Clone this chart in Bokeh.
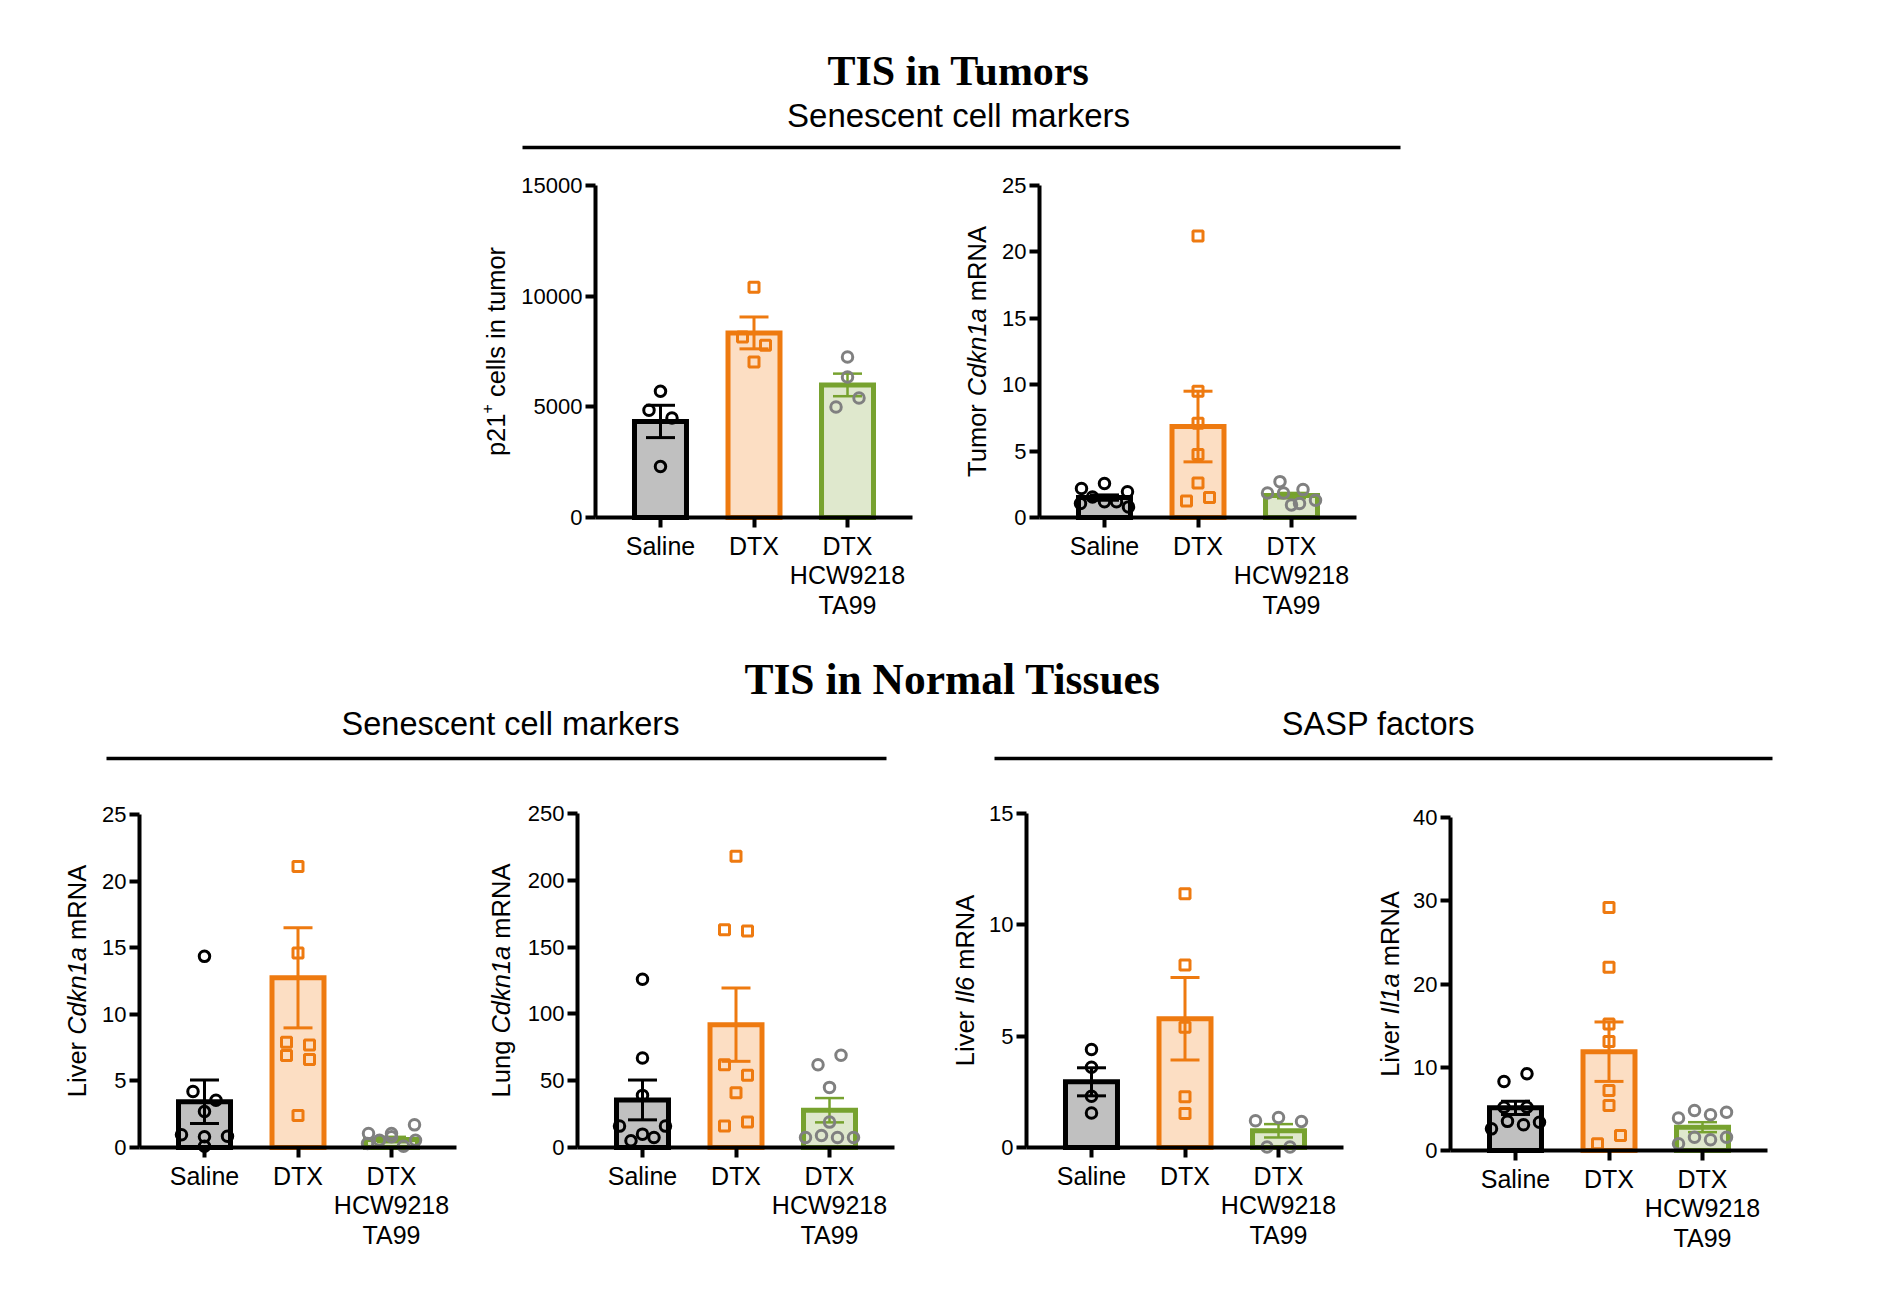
import math
from bokeh.plotting import figure
from bokeh.models import Range1d, FixedTicker, Label, Spacer, LinearAxis
from bokeh.layouts import column, row
from bokeh.embed import file_html
from bokeh.resources import INLINE

# ---------------- data ----------------
categories = ["Saline", "DTX", "DTX\nHCW9218\nTA99"]

# p21+ cells in tumor
p21_saline = [5700, 4850, 4500, 2300]
p21_dtx = [10400, 8150, 7780, 7030]
p21_combo = [7250, 6350, 4990, 5400]
p21_mean = [4340, 8340, 5990]
p21_sem = [730, 720, 510]
p21_ticks = [0, 5000, 10000, 15000]

# Tumor Cdkn1a mRNA
tcdk_saline = [1.05, 1.55, 2.18, 1.18, 2.56, 1.18, 1.93, 0.80]
tcdk_dtx = [21.2, 9.5, 7.1, 4.75, 2.6, 1.25, 1.5]
tcdk_combo = [1.85, 2.7, 1.85, 2.1, 0.95, 1.05, 1.3]
tcdk_mean = [1.5, 6.85, 1.65]
tcdk_sem = [0.2, 2.66, 0.2]
tcdk_ticks = [0, 5, 10, 15, 20, 25]

# Liver Cdkn1a mRNA
lcdk_saline = [14.35, 4.2, 3.55, 2.7, 0.1, 0.95, 0.8, 0.85]
lcdk_dtx = [21.1, 14.6, 7.9, 7.7, 6.9, 6.6, 2.4]
lcdk_combo = [0.3, 1.05, 0.55, 0.8, 1.05, 1.7, 0.1, 0.55]
lcdk_mean = [3.43, 12.74, 0.6]
lcdk_sem = [1.63, 3.76, 0.2]
lcdk_ticks = [0, 5, 10, 15, 20, 25]

# Lung Cdkn1a mRNA
lung_saline = [126, 67, 39, 16, 10, 16, 5, 7.5]
lung_dtx = [218, 163, 162, 62, 54, 41, 16, 19]
lung_combo = [62, 69, 45, 19, 7.5, 9, 7.5, 7.5]
lung_mean = [35.6, 91.9, 27.9]
lung_sem = [14.9, 27.4, 9.1]
lung_ticks = [0, 50, 100, 150, 200, 250]

# Liver Il6 mRNA
il6_saline = [4.4, 3.6, 2.3, 1.55]
il6_dtx = [11.4, 8.2, 5.4, 2.28, 1.53]
il6_combo = [1.2, 1.35, 1.17, 0.02, 0.02]
il6_mean = [2.95, 5.78, 0.75]
il6_sem = [0.63, 1.85, 0.3]
il6_ticks = [0, 5, 10, 15]

# Liver Il1a mRNA
il1a_saline = [8.3, 9.22, 5.2, 5.2, 2.6, 3.5, 3.1, 3.4]
il1a_dtx = [29.2, 22, 15.2, 13.1, 7.2, 5.4, 0.8, 1.8]
il1a_combo = [3.9, 4.8, 4.3, 4.6, 0.8, 1.6, 1.3, 1.6]
il1a_mean = [5.13, 11.87, 2.8]
il1a_sem = [0.8, 3.57, 0.6]
il1a_ticks = [0, 10, 20, 30, 40]

# ---------------- style ----------------
BAR_FILL = ["#c0c0c0", "#fcdec3", "#dfe8cd"]
BAR_LINE = ["#000000", "#ee7a10", "#77a22f"]
PT_COLOR = ["#000000", "#ee7a10", "#808080"]
PT_MARKER = ["circle", "square", "circle"]
PT_SIZE = [10.5, 10, 10.5]
ERR_WIDTH = [3, 3, 2.5]
FONT = "Liberation Sans"
SERIF = "Liberation Serif"

XPOS = list(range(len(categories)))
FRAME_W = 317
AX_LEFT = -0.695
AX_RIGHT = len(categories) - 1 + 0.695
PPX = FRAME_W / (AX_RIGHT - AX_LEFT)
BAR_W = 0.556
CAP_HALF = 0.155

AW = {" ": 278, "+": 584, "1": 556, "2": 556, "6": 556, "A": 667, "C": 722,
      "I": 278, "L": 556, "N": 722, "R": 722, "T": 611, "a": 556, "c": 500,
      "d": 556, "e": 556, "g": 556, "i": 222, "k": 500, "l": 222, "m": 833,
      "n": 556, "o": 556, "p": 556, "r": 333, "s": 500, "t": 278, "u": 556,
      "v": 500}


def text_w(s, size):
    return sum(AW.get(c, 556) for c in s) * size / 1000.0


def swarm(vals, ppu, h=11.0, max_span=48.0, max_step=23.0):
    idx = sorted(range(len(vals)), key=lambda i: -vals[i])
    rows = []
    for i in idx:
        if rows and (vals[rows[-1][0]] - vals[i]) * ppu < h:
            rows[-1].append(i)
        else:
            rows.append([i])
    offs = [0.0] * len(vals)
    for r in rows:
        r = sorted(r)
        n = len(r)
        if n == 1:
            continue
        step = min(max_step, max_span / (n - 1))
        for k, i in enumerate(r):
            offs[i] = (k - (n - 1) / 2.0) * step
    return offs


def add_ylabel(p, pieces, dx_px, H, ymax):
    FS = 25.5
    SUP = 16
    ppu = H / ymax
    widths = []
    for text, style in pieces:
        if style == "space":
            widths.append(AW[" "] * FS / 1000.0)
        elif style == "sup":
            widths.append(text_w(text, SUP))
        else:
            widths.append(text_w(text, FS))
    cum = H / 2.0 - sum(widths) / 2.0
    for (text, style), w in zip(pieces, widths):
        if style != "space":
            size = SUP if style == "sup" else FS
            xoff = dx_px - 9 if style == "sup" else dx_px
            p.add_layout(Label(x=AX_LEFT + xoff / PPX, y=cum / ppu, text=text,
                               angle=math.pi / 2, text_align="left", text_baseline="middle",
                               text_font=FONT,
                               text_font_style="italic" if style == "italic" else "normal",
                               text_font_size=f"{size}px", text_color="#000000"))
        cum += w


def make_panel(groups, means, sems, ticks, pieces, T, H, L, R, label_dx, B=140):
    ymax = ticks[-1]
    ppu = H / ymax
    p = figure(width=L + FRAME_W + R, height=T + H + B,
               x_range=Range1d(AX_LEFT - L / PPX, AX_RIGHT + R / PPX),
               y_range=Range1d(-B / ppu, ymax + T / ppu),
               x_axis_type=None, y_axis_type=None,
               output_backend="svg", toolbar_location=None, min_border=0,
               outline_line_color=None, title=None,
               background_fill_color="white", border_fill_color="white")

    p.vbar(x=XPOS, top=means, bottom=0, width=BAR_W, fill_color=BAR_FILL,
           line_color=BAR_LINE, line_width=5, line_join="miter")

    lo = [m - s for m, s in zip(means, sems)]
    hi = [m + s for m, s in zip(means, sems)]
    p.segment(x0=XPOS, y0=lo, x1=XPOS, y1=hi, line_color=BAR_LINE, line_width=ERR_WIDTH)
    for ys in (lo, hi):
        p.segment(x0=[x - CAP_HALF for x in XPOS], y0=ys,
                  x1=[x + CAP_HALF for x in XPOS], y1=ys,
                  line_color=BAR_LINE, line_width=ERR_WIDTH)

    for g, vals in enumerate(groups):
        offs = swarm(vals, ppu)
        xs = [XPOS[g] + o / PPX for o in offs]
        p.scatter(x=xs, y=vals, marker=PT_MARKER[g], size=PT_SIZE[g], fill_alpha=0,
                  line_color=PT_COLOR[g], line_width=3)

    xa = LinearAxis(fixed_location=0, bounds=(AX_LEFT, AX_RIGHT),
                    ticker=FixedTicker(ticks=XPOS),
                    major_label_overrides={i: c for i, c in zip(XPOS, categories)})
    xa.axis_line_width = 4
    xa.axis_line_color = "#000000"
    xa.major_tick_line_width = 4
    xa.major_tick_line_color = "#000000"
    xa.major_tick_out = 10
    xa.major_tick_in = 0
    xa.minor_tick_out = 0
    xa.minor_tick_in = 0
    xa.major_label_standoff = 4
    xa.major_label_text_font = FONT
    xa.major_label_text_font_size = "25px"
    xa.major_label_text_line_height = 1.06
    xa.major_label_text_color = "#000000"
    p.add_layout(xa, "below")

    ya = LinearAxis(fixed_location=AX_LEFT, bounds=(0, ymax), ticker=FixedTicker(ticks=ticks))
    ya.axis_line_width = 4
    ya.axis_line_color = "#000000"
    ya.major_tick_line_width = 4
    ya.major_tick_line_color = "#000000"
    ya.major_tick_out = 10
    ya.major_tick_in = 0
    ya.minor_tick_out = 0
    ya.minor_tick_in = 0
    ya.major_label_standoff = 3
    ya.major_label_text_font = FONT
    ya.major_label_text_font_size = "22px"
    ya.major_label_text_color = "#000000"
    p.add_layout(ya, "left")

    add_ylabel(p, pieces, label_dx, H, ymax)
    return p


def build_row(specs):
    children = []
    pos = 0
    for frame_left, L, R, fig in specs:
        start = frame_left - L
        if start - pos > 0:
            children.append(Spacer(width=start - pos, height=10))
        children.append(fig)
        pos = frame_left + FRAME_W + R
    return row(children)


def header(height, texts, lines):
    p = figure(width=1874, height=height, x_range=Range1d(0, 1874), y_range=Range1d(0, height),
               x_axis_type=None, y_axis_type=None, toolbar_location=None, output_backend="svg",
               min_border=0, outline_line_color=None, title=None)
    for cx, cy, txt, font, style, size in texts:
        p.add_layout(Label(x=cx, y=height - cy, text=txt, text_align="center",
                           text_baseline="middle", text_font=font, text_font_style=style,
                           text_font_size=size, text_color="#000000"))
    for x0, x1, ly in lines:
        p.line(x=[x0, x1], y=[height - ly, height - ly], line_width=3.5, line_color="#000000")
    return p


# ---------------- page ----------------
head1 = header(152,
               [(950, 62, "TIS in Tumors", SERIF, "bold", "42px"),
                (950, 106.5, "Senescent cell markers", FONT, "normal", "33px")],
               [(514, 1392, 139)])

pA = make_panel([p21_saline, p21_dtx, p21_combo], p21_mean, p21_sem, p21_ticks,
                [("p21", "normal"), ("+", "sup"), (" ", "space"), ("cells in tumor", "normal")],
                T=25, H=332, L=130, R=5, label_dx=-100, B=115)
pB = make_panel([tcdk_saline, tcdk_dtx, tcdk_combo], tcdk_mean, tcdk_sem, tcdk_ticks,
                [("Tumor", "normal"), (" ", "space"), ("Cdkn1a", "italic"), (" ", "space"), ("mRNA", "normal")],
                T=25, H=332, L=115, R=20, label_dx=-63, B=115)
rowB = build_row([(587, 130, 5, pA), (1031, 115, 20, pB)])

head2 = header(156,
               [(944, 46.6, "TIS in Normal Tissues", SERIF, "bold", "43.5px"),
                (502, 91, "Senescent cell markers", FONT, "normal", "32.5px"),
                (1370, 91, "SASP factors", FONT, "normal", "32.5px")],
               [(98, 878, 126), (986, 1764, 126)])

pC = make_panel([lcdk_saline, lcdk_dtx, lcdk_combo], lcdk_mean, lcdk_sem, lcdk_ticks,
                [("Liver", "normal"), (" ", "space"), ("Cdkn1a", "italic"), (" ", "space"), ("mRNA", "normal")],
                T=26, H=333, L=125, R=10, label_dx=-63)
pD = make_panel([lung_saline, lung_dtx, lung_combo], lung_mean, lung_sem, lung_ticks,
                [("Lung", "normal"), (" ", "space"), ("Cdkn1a", "italic"), (" ", "space"), ("mRNA", "normal")],
                T=25, H=334, L=111, R=10, label_dx=-77)
pE = make_panel([il6_saline, il6_dtx, il6_combo], il6_mean, il6_sem, il6_ticks,
                [("Liver", "normal"), (" ", "space"), ("Il6", "italic"), (" ", "space"), ("mRNA", "normal")],
                T=25, H=334, L=122, R=4, label_dx=-62)
pF = make_panel([il1a_saline, il1a_dtx, il1a_combo], il1a_mean, il1a_sem, il1a_ticks,
                [("Liver", "normal"), (" ", "space"), ("Il1a", "italic"), (" ", "space"), ("mRNA", "normal")],
                T=29, H=333, L=103, R=20, label_dx=-61)
rowD = build_row([(131, 125, 10, pC), (569, 111, 10, pD), (1018, 122, 4, pE), (1442, 103, 20, pF)])

body = column(head1, rowB, head2, rowD)
layout = column(Spacer(width=10, height=8), row(Spacer(width=8, height=10), body))

open("out.html", "w").write(file_html(layout, INLINE))
